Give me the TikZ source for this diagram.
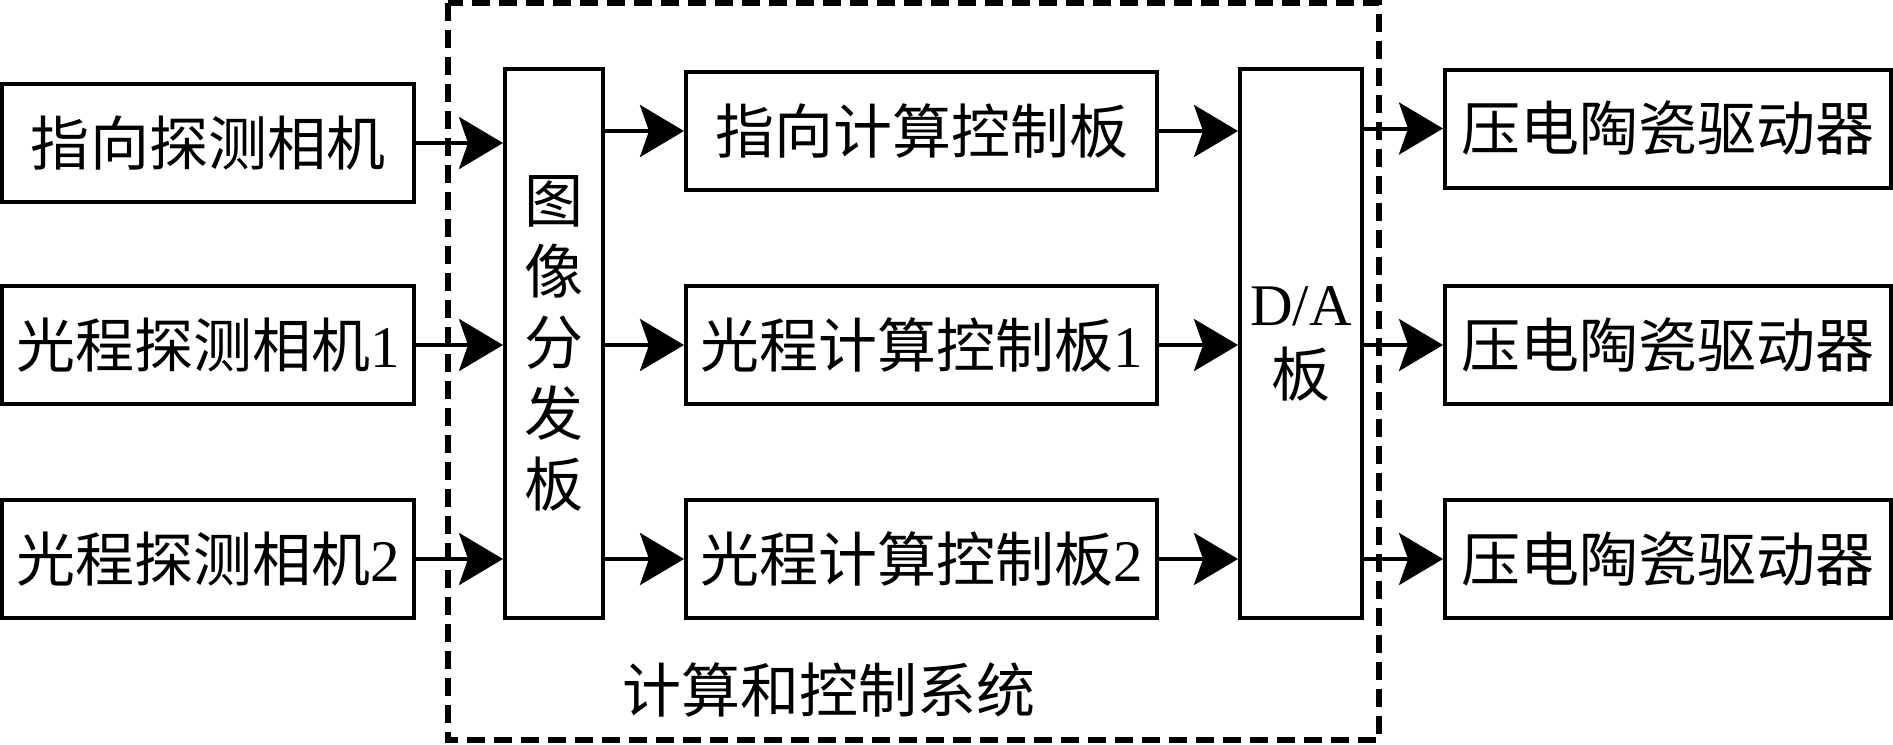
\documentclass[tikz,border=0pt]{standalone}
\usepackage{fontspec}
\setmainfont{Liberation Serif}
\newfontfamily\cjk{Noto Sans CJK SC}
\usetikzlibrary{arrows.meta,positioning}

\begin{document}
\begin{tikzpicture}[x=0.5pt,y=-0.5pt,inner sep=0pt,
  box/.style={draw,line width=2pt,minimum height=59pt,font=\fontsize{29.5pt}{35.5pt}\selectfont\cjk},
  tall/.style={box,minimum height=274.5pt,align=center},
  arr/.style={line width=2pt,-{Stealth[length=22pt,width=26pt,inset=4.5pt]}}]
\useasboundingbox (0,0) rectangle (1893,744);
\draw[line width=2.6pt,dash pattern=on 9pt off 4.5pt] (448,3) rectangle (1379,740);

\node[box,minimum width=206pt] (cam1) at (208,143) {指向探测相机};
\node[box,minimum width=206pt] (cam2) at (208,345) {光程探测相机{\rmfamily 1}};
\node[box,minimum width=206pt] (cam3) at (208,559) {光程探测相机{\rmfamily 2}};

\node[tall,minimum width=49pt] (dist) at (554,343.5) {图\\像\\分\\发\\板};

\node[box,minimum width=235.5pt] (calc1) at (921.5,131) {指向计算控制板};
\node[box,minimum width=235.5pt] (calc2) at (921.5,345) {光程计算控制板{\rmfamily 1}};
\node[box,minimum width=235.5pt] (calc3) at (921.5,559) {光程计算控制板{\rmfamily 2}};

\node[tall,minimum width=61pt] (dac) at (1301,343.5) {{\rmfamily D/A}\\板};

\node[box,minimum width=223pt] (drv1) at (1668,128.5) {压电陶瓷驱动器};
\node[box,minimum width=223pt] (drv2) at (1668,345) {压电陶瓷驱动器};
\node[box,minimum width=223pt] (drv3) at (1668,559) {压电陶瓷驱动器};

\node[font=\fontsize{29.5pt}{35.5pt}\selectfont\cjk] (sys) at (829,690) {计算和控制系统};

\foreach \i in {1,2,3} {
  \draw[arr] (cam\i.east) -- (cam\i.east -| dist.west);
  \draw[arr] (dist.east |- calc\i.west) -- (calc\i.west);
  \draw[arr] (calc\i.east) -- (calc\i.east -| dac.west);
  \draw[arr] (dac.east |- drv\i.west) -- (drv\i.west);
}
\end{tikzpicture}
\end{document}
